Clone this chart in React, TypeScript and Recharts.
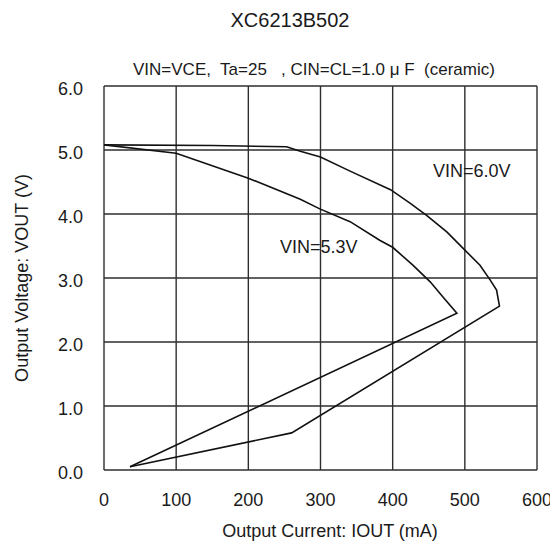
import { LineChart, Line, XAxis, YAxis, CartesianGrid } from "recharts";

// output current (mA) vs output voltage (V)
const CURRENT_6V0 = [0, 150, 253, 272, 300, 341, 397, 424, 447, 475, 497, 521, 535, 544, 548, 260, 36];
const VOUT_6V0 = [5.08, 5.07, 5.05, 4.98, 4.89, 4.67, 4.38, 4.17, 3.98, 3.72, 3.47, 3.2, 2.97, 2.81, 2.56, 0.58, 0.05];

const CURRENT_5V3 = [0, 100, 200, 272, 299, 341, 382, 400, 428, 452, 470, 489, 36];
const VOUT_5V3 = [5.08, 4.95, 4.56, 4.23, 4.08, 3.88, 3.59, 3.48, 3.2, 2.94, 2.7, 2.45, 0.05];

const X_TICKS = [0, 100, 200, 300, 400, 500, 600];
const Y_TICKS = [0, 1, 2, 3, 4, 5, 6];

const TITLE = "XC6213B502";
const CONDITIONS = "VIN=VCE,  Ta=25   , CIN=CL=1.0 μ F  (ceramic)";
const X_LABEL = "Output Current: IOUT (mA)";
const Y_LABEL = "Output Voltage: VOUT (V)";

const FONT = "Arial, 'Liberation Sans', sans-serif";
const INK = "#1a1a1a";

const W = 550;
const H = 538;

const toPoints = (xs: number[], ys: number[]) => xs.map((i, k) => ({ i, v: ys[k] }));

const XTick = ({ x, y, payload }: any) => (
  <text x={x} y={y + 36} textAnchor="middle" fontSize={18} fontFamily={FONT} fill={INK}>
    {payload.value}
  </text>
);

const YTick = ({ x, y, payload }: any) => (
  <text x={x - 21} y={y + 9} textAnchor="end" fontSize={18} fontFamily={FONT} fill={INK}>
    {Number(payload.value).toFixed(1)}
  </text>
);

export default function App() {
  const outer = toPoints(CURRENT_6V0, VOUT_6V0);
  const inner = toPoints(CURRENT_5V3, VOUT_5V3);

  return (
    <div style={{ position: "relative", width: W, height: H, background: "#fff" }}>
      <LineChart
        width={W}
        height={H}
        margin={{ top: 78, right: 21, bottom: 46, left: 56 }}
      >
        <CartesianGrid stroke="#2e2e2e" strokeWidth={1.4} />
        <XAxis
          type="number"
          dataKey="i"
          domain={[0, 600]}
          ticks={X_TICKS}
          height={30}
          axisLine={false}
          tickLine={false}
          tickSize={0}
          tickMargin={0}
          tick={<XTick />}
          allowDataOverflow
        />
        <YAxis
          type="number"
          domain={[0, 6]}
          ticks={Y_TICKS}
          width={40}
          axisLine={false}
          tickLine={false}
          tickSize={0}
          tickMargin={0}
          tick={<YTick />}
          allowDataOverflow
        />
        <Line
          data={outer}
          dataKey="v"
          type="linear"
          stroke="#111"
          strokeWidth={1.6}
          dot={false}
          isAnimationActive={false}
        />
        <Line
          data={inner}
          dataKey="v"
          type="linear"
          stroke="#111"
          strokeWidth={1.6}
          dot={false}
          isAnimationActive={false}
        />
      </LineChart>

      <svg
        width={W}
        height={H}
        style={{ position: "absolute", left: 0, top: 0, pointerEvents: "none" }}
        fontFamily={FONT}
        fill={INK}
      >
        <text x={282} y={19} textAnchor="middle" fontSize={20}>
          {TITLE}
        </text>
        <text x={125} y={67} fontSize={17} style={{ whiteSpace: "pre" }}>
          {CONDITIONS}
        </text>
        <text x={425} y={169} fontSize={18}>
          VIN=6.0V
        </text>
        <text x={272} y={245} fontSize={18}>
          VIN=5.3V
        </text>
        <text x={322} y={529} textAnchor="middle" fontSize={18}>
          {X_LABEL}
        </text>
        <text
          x={20}
          y={270}
          textAnchor="middle"
          fontSize={18}
          transform="rotate(-90 20 270)"
        >
          {Y_LABEL}
        </text>
      </svg>
    </div>
  );
}
